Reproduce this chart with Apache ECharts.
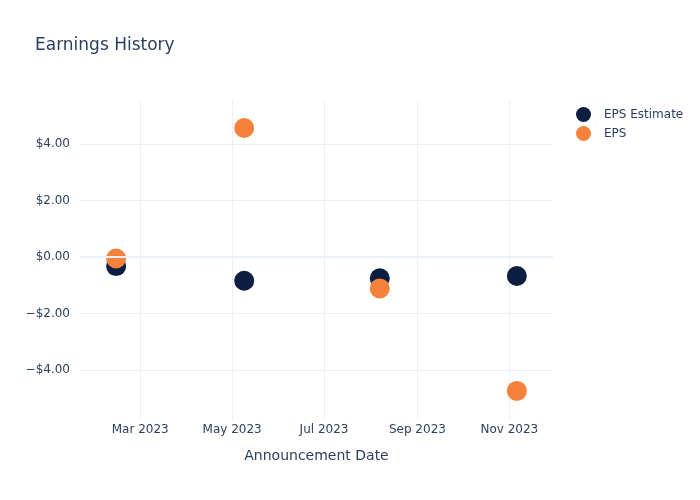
<!DOCTYPE html>
<html><head><meta charset="utf-8">
<script src="https://cdn.jsdelivr.net/npm/echarts@6/dist/echarts.min.js"></script>
<style>html,body{margin:0;padding:0;background:#fff}#c{width:700px;height:500px}</style>
</head><body><div id="c"></div>
<script>
const dates = ['2023-02-13', '2023-05-09', '2023-08-07', '2023-11-06'];
const epsEstimate = [-0.32, -0.84, -0.75, -0.67];
const eps = [-0.05, 4.57, -1.11, -4.74];
const xTicks = ['2023-03-01', '2023-05-01', '2023-07-01', '2023-09-01', '2023-11-01'];
const xTickLabels = ['Mar 2023', 'May 2023', 'Jul 2023', 'Sep 2023', 'Nov 2023'];
const yTicks = [-4, -2, 0, 2, 4];

const ts = s => new Date(s + 'T00:00:00Z').getTime();
const xTickTs = xTicks.map(ts);
const font = 'DejaVu Sans, Verdana, sans-serif';
const txt = '#2a3f5f';
const grid = '#ebf0f8';

const chart = echarts.init(document.getElementById('c'));
chart.setOption({
  animation: false,
  textStyle: {fontFamily: font},
  title: {text: 'Earnings History', left: 30, top: 32, textStyle: {fontSize: 17, fontWeight: 'normal', color: txt, fontFamily: font}},
  legend: {
    left: 571, top: 102, orient: 'vertical', itemWidth: 15, itemHeight: 15, itemGap: 4, icon: 'circle',
    textStyle: {fontSize: 12, color: txt, fontFamily: font, padding: [0, 0, 0, 8]},
    data: ['EPS Estimate', 'EPS']
  },
  grid: {left: 80, right: 147, top: 100, bottom: 80},
  xAxis: {
    type: 'value',
    min: ts('2023-01-20'), max: ts('2023-11-30'),
    name: 'Announcement Date', nameLocation: 'middle', nameGap: 29,
    nameTextStyle: {fontSize: 14, color: txt, fontFamily: font},
    axisLine: {show: false}, 
    axisTick: {show: false, customValues: xTickTs},
    axisLabel: {customValues: xTickTs, color: txt, fontSize: 12, margin: 4,
      formatter: v => { const i = xTickTs.indexOf(v); return i >= 0 ? xTickLabels[i] : ''; }},
    splitLine: {show: true, lineStyle: {color: grid, width: 1}}
  },
  yAxis: {
    type: 'value', min: -5.77, max: 5.56,
    axisLine: {show: false}, 
    axisTick: {show: false, customValues: yTicks},
    axisLabel: {customValues: yTicks, color: txt, fontSize: 12, margin: 10, padding: [5, 0, 0, 0],
      formatter: v => (v < 0 ? '\u2212$' : '$') + Math.abs(v).toFixed(2)},
    splitLine: {show: true, lineStyle: {color: grid, width: 1}}
  },
  series: [
    {name: 'EPS Estimate', type: 'scatter', symbolSize: 20, itemStyle: {color: '#0c1f40', opacity: 1},
     data: dates.map((d, i) => [ts(d), epsEstimate[i]]),
     markLine: {silent: true, symbol: 'none', label: {show: false}, lineStyle: {color: grid, width: 2, type: 'solid'}, data: [{yAxis: 0}]}, z: 2},
    {name: 'EPS', type: 'scatter', symbolSize: 20, itemStyle: {color: '#f5813a', opacity: 1},
     data: dates.map((d, i) => [ts(d), eps[i]]), z: 3}
  ]
});
</script></body></html>
